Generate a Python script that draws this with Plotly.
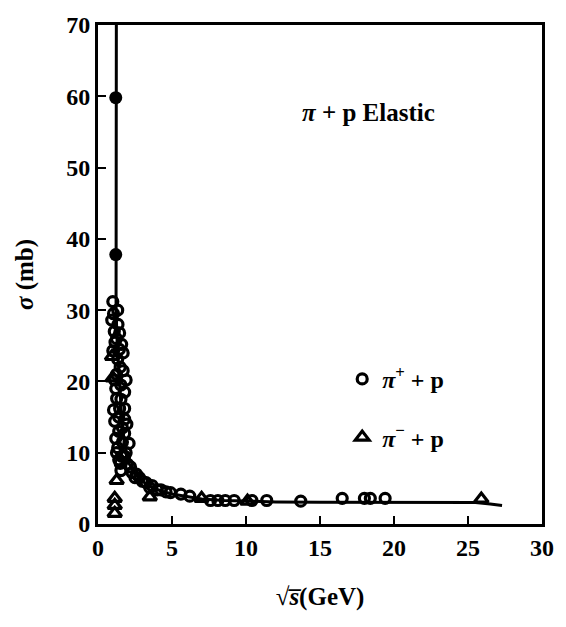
import plotly.graph_objects as go

# pi+ p elastic (open circles)
pip_x = [1.0, 1.33, 0.93, 1.46, 1.0, 1.6, 1.33, 1.9, 1.13, 1.8, 1.26, 1.8, 1.46, 1.8, 1.13,
         1.8, 2.1, 1.33, 1.6, 2.0, 2.3, 2.8, 3.25, 3.65, 4.25, 4.9, 5.6, 6.2, 7.6, 8.1,
         8.6, 9.2, 10.4, 11.4, 13.7, 16.5, 18.0, 18.4, 19.4,
         1.1, 1.5, 1.7, 1.2, 1.55, 1.4, 1.2, 1.65, 1.5, 1.8, 2.5, 3.0, 3.5, 4.0, 4.6, 1.7, 1.25,
         1.05, 1.35, 1.15, 1.45, 1.25, 1.55, 1.05, 1.4, 1.65, 1.9, 1.25, 1.55, 2.2, 2.6, 1.95, 1.4]
pip_y = [31.2, 30.0, 28.6, 26.8, 24.3, 25.2, 23.1, 20.2, 20.2, 18.5, 17.6, 16.2, 16.2, 14.7, 14.4,
         12.7, 11.3, 10.7, 9.5, 8.4, 7.2, 6.5, 5.8, 5.4, 4.8, 4.4, 4.2, 3.9, 3.3, 3.3,
         3.3, 3.3, 3.3, 3.3, 3.2, 3.6, 3.6, 3.6, 3.6,
         27.0, 22.0, 21.5, 19.0, 17.5, 13.0, 12.0, 11.5, 8.5, 9.5, 6.5, 6.0, 5.1, 4.8, 4.5, 24.0, 26.0,
         29.5, 28.0, 25.5, 24.5, 21.0, 19.5, 16.0, 15.0, 13.5, 10.0, 10.0, 7.5, 8.0, 7.0, 14.0, 9.0]

# pi+ p resonance peak points (drawn filled)
pip_peak_x = [1.2, 1.2]
pip_peak_y = [59.8, 37.8]

# pi- p elastic (open triangles)
pim_x = [0.95, 1.0, 1.26, 1.13, 1.13, 1.13, 3.5, 7.0, 10.1, 25.9]
pim_y = [23.5, 20.5, 6.1, 3.6, 2.6, 1.5, 3.8, 3.6, 3.2, 3.5]

# fitted curve
fit_x = [1.24, 1.22, 1.22, 1.3, 1.45, 1.6, 1.8, 2.1, 2.5, 3.0, 3.6, 4.3, 5.0, 6.0, 7.0,
         8.5, 10.0, 12.0, 15.0, 20.0, 24.0, 25.5, 26.5, 27.3]
fit_y = [70.0, 45.0, 30.0, 25.0, 20.0, 15.0, 11.0, 8.5, 7.0, 6.0, 5.2, 4.6, 4.2, 3.8, 3.5,
         3.3, 3.2, 3.1, 3.05, 3.0, 2.95, 3.0, 2.8, 2.6]

x_ticks = [0, 5, 10, 15, 20, 25, 30]
y_ticks = [0, 10, 20, 30, 40, 50, 60, 70]

FONT = "Liberation Serif"

fig = go.Figure()
fig.add_trace(go.Scatter(x=fit_x, y=fit_y, mode="lines",
                         line=dict(color="black", width=3), showlegend=False))
fig.add_trace(go.Scatter(x=pip_x, y=pip_y, mode="markers", name="<b><i>π</i><sup>+</sup> + p</b>",
                         legendgroup="a",
                         marker=dict(symbol="circle-open", size=10, color="black",
                                     line=dict(width=3.2, color="black"))))
fig.add_trace(go.Scatter(x=pip_peak_x, y=pip_peak_y, mode="markers", showlegend=False,
                         marker=dict(symbol="circle", size=13, color="black")))
fig.add_trace(go.Scatter(x=pim_x, y=pim_y, mode="markers", name="<b><i>π</i><sup>−</sup> + p</b>",
                         legendgroup="b",
                         marker=dict(symbol="triangle-up-open", size=12, color="black",
                                     line=dict(width=3.2, color="black"))))

fig.add_annotation(x=0.61, y=0.855, xref="paper", yref="paper", showarrow=False,
                   text="<b><i>π</i> + p Elastic</b>",
                   font=dict(family=FONT, size=25, color="black"))

axis_common = dict(showline=True, linecolor="black", linewidth=3, mirror=True,
                   ticks="inside", ticklen=8, tickwidth=2, tickcolor="black",
                   showgrid=False, zeroline=False,
                   tickfont=dict(family=FONT, size=24, color="black"))

fig.update_xaxes(range=[0, 30], tickvals=x_ticks, ticktext=[f"<b>{v}</b>" for v in x_ticks],
                 title=dict(text="<b>√<i>s̅</i>(GeV)</b>", font=dict(family=FONT, size=25, color="black"),
                            standoff=28),
                 **axis_common)
fig.update_yaxes(range=[0, 70], tickvals=y_ticks, ticktext=[f"<b>{v}</b>" for v in y_ticks],
                 title=dict(text="<b><i>σ</i> (mb)</b>", font=dict(family=FONT, size=25, color="black"),
                            standoff=26),
                 **axis_common)

fig.update_layout(
    width=566, height=627,
    margin=dict(l=98, r=18, t=18, b=103),
    paper_bgcolor="white", plot_bgcolor="white",
    showlegend=True,
    legend=dict(x=0.55, y=0.335, xanchor="left", yanchor="top",
                font=dict(family=FONT, size=24, color="black"),
                traceorder="grouped", tracegroupgap=24, bgcolor="rgba(0,0,0,0)"),
)

fig.write_html("out.html")
